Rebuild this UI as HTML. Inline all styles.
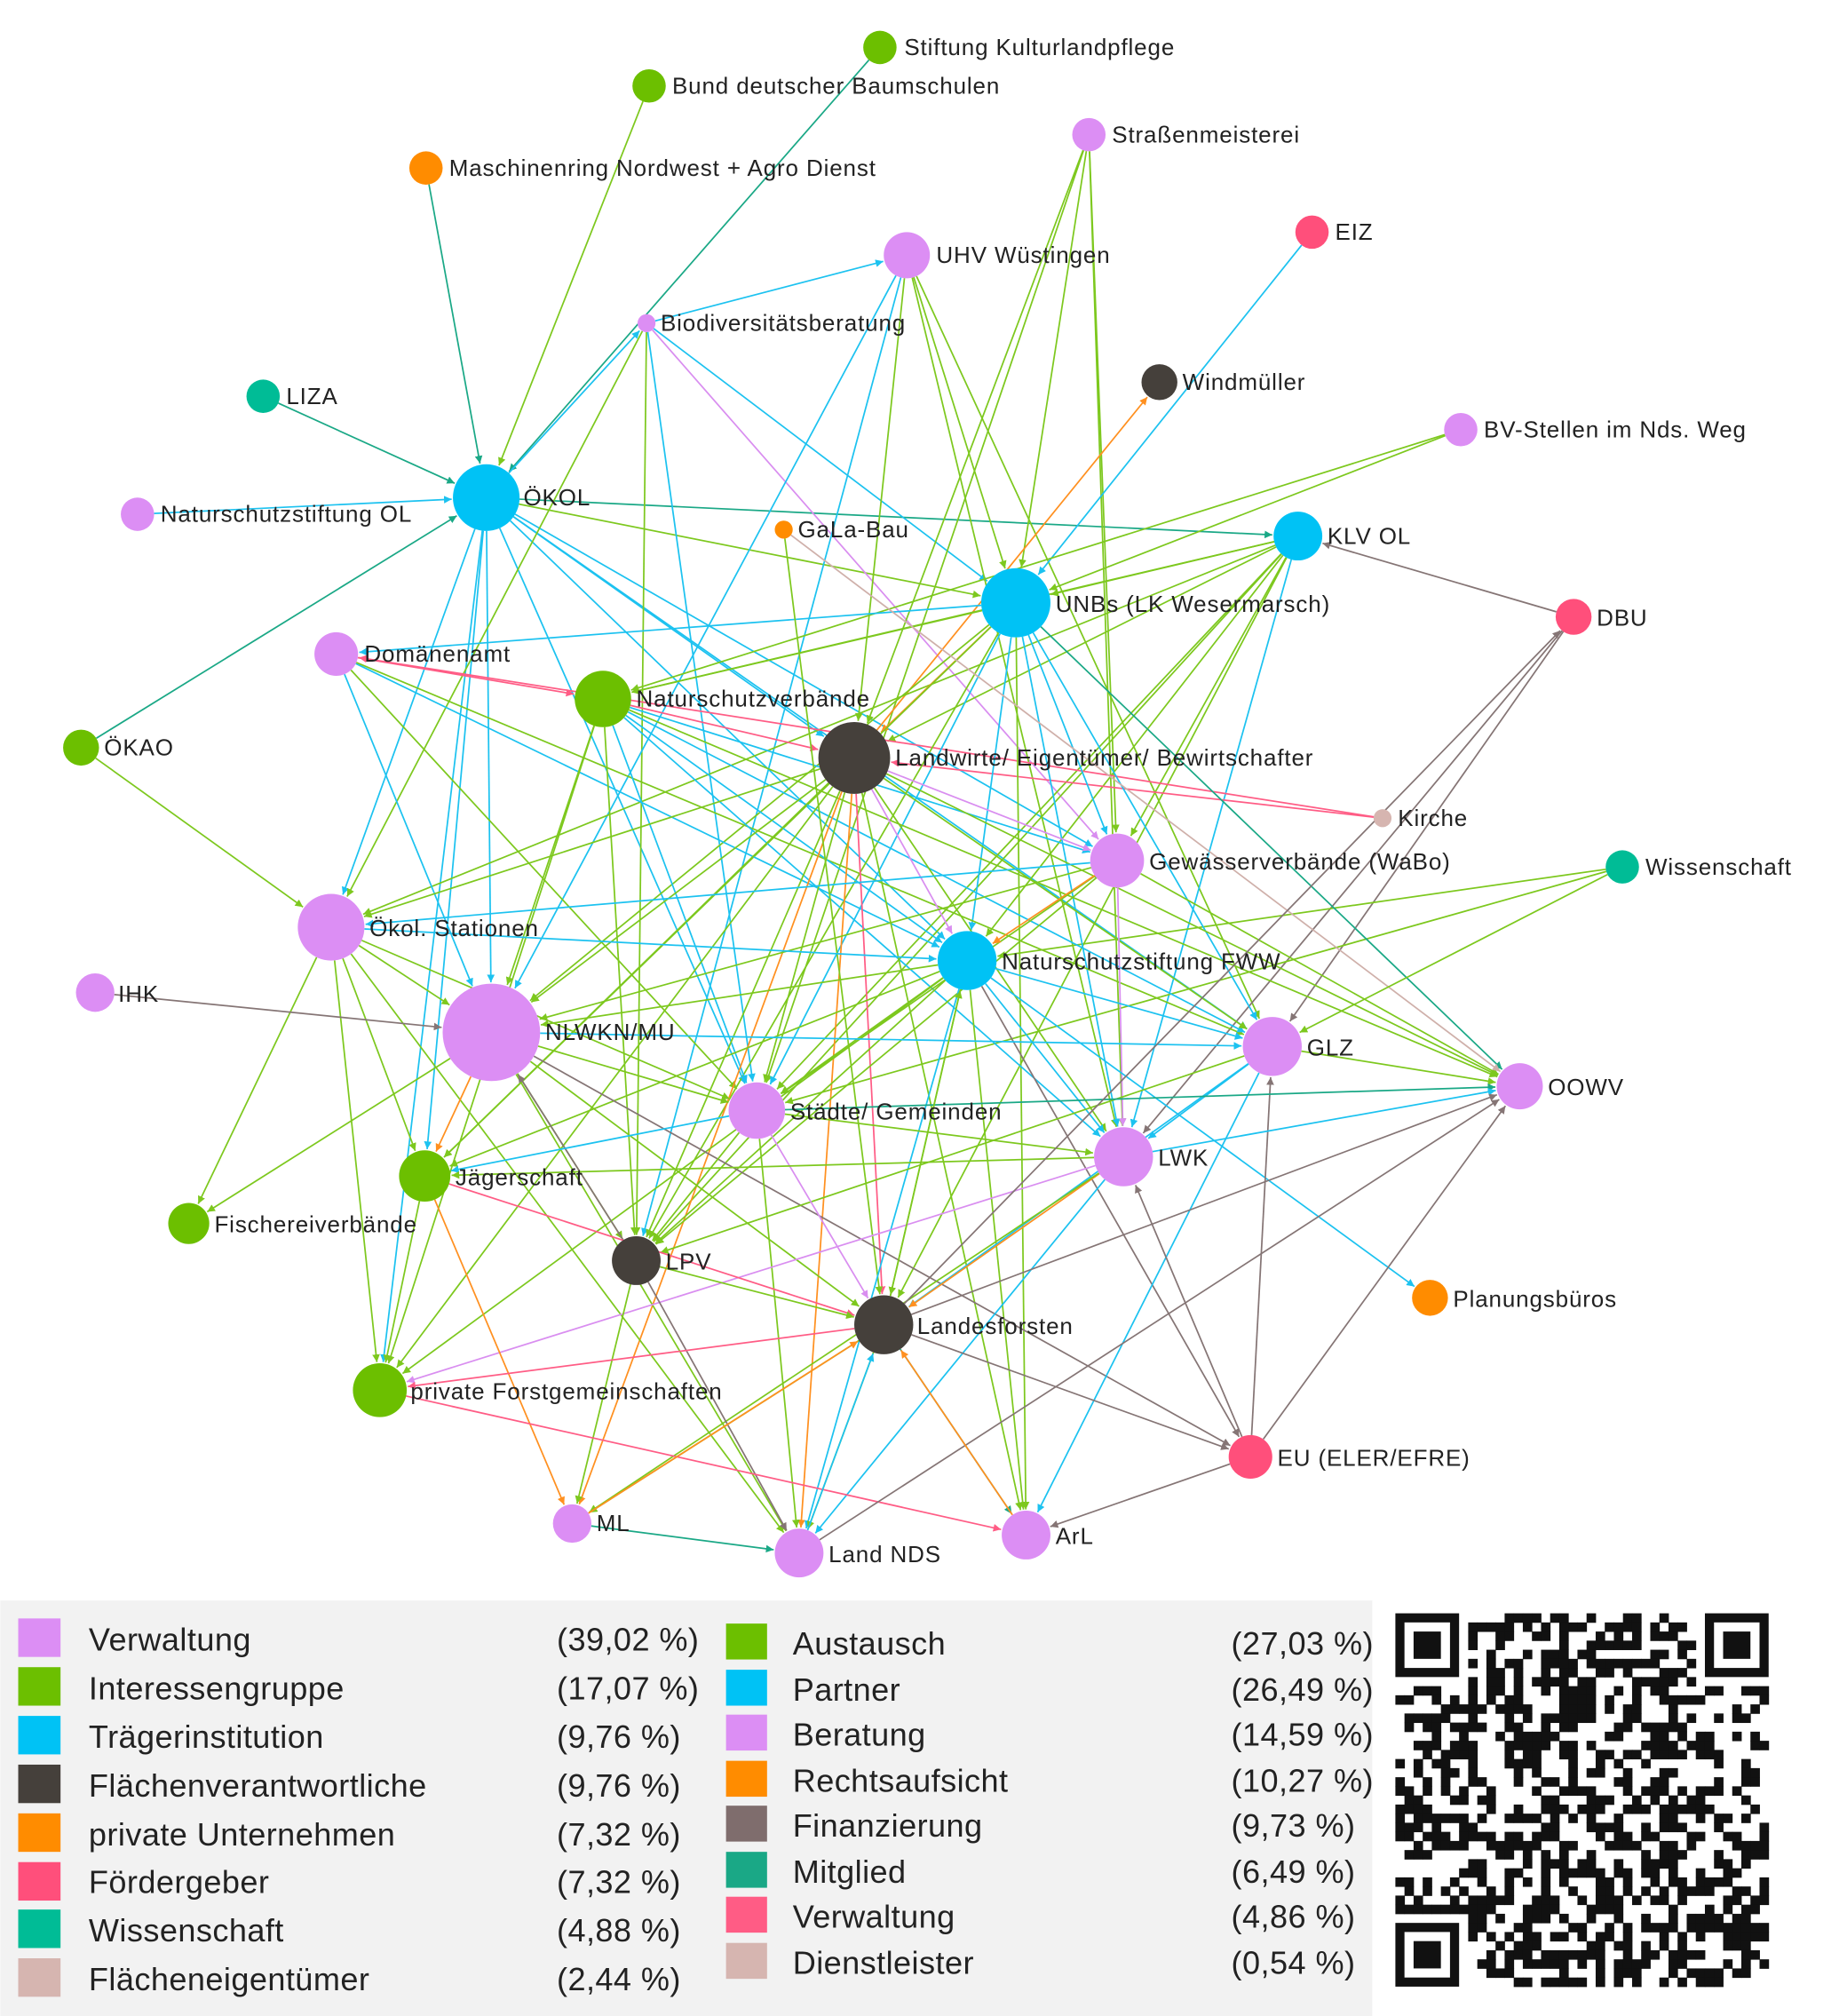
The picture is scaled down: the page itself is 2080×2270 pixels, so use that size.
<!DOCTYPE html>
<html><head><meta charset="utf-8">
<style>
html,body{margin:0;padding:0;background:#fff;}
svg{display:block;}
text{font-family:"Liberation Sans",sans-serif;}
</style></head>
<body>
<svg id="s" width="2080" height="2270" viewBox="0 0 1440 1572" xmlns="http://www.w3.org/2000/svg">
<defs>
<marker id="mg" viewBox="0 0 10 10" refX="10" refY="5" markerWidth="5" markerHeight="5" orient="auto"><path d="M0,0L10,5L0,10z" fill="#7dc81e"/></marker>
<marker id="mb" viewBox="0 0 10 10" refX="10" refY="5" markerWidth="5" markerHeight="5" orient="auto"><path d="M0,0L10,5L0,10z" fill="#1cc2f0"/></marker>
<marker id="mv" viewBox="0 0 10 10" refX="10" refY="5" markerWidth="5" markerHeight="5" orient="auto"><path d="M0,0L10,5L0,10z" fill="#d98ef0"/></marker>
<marker id="mo" viewBox="0 0 10 10" refX="10" refY="5" markerWidth="5" markerHeight="5" orient="auto"><path d="M0,0L10,5L0,10z" fill="#ff9020"/></marker>
<marker id="mf" viewBox="0 0 10 10" refX="10" refY="5" markerWidth="5" markerHeight="5" orient="auto"><path d="M0,0L10,5L0,10z" fill="#857575"/></marker>
<marker id="mt" viewBox="0 0 10 10" refX="10" refY="5" markerWidth="5" markerHeight="5" orient="auto"><path d="M0,0L10,5L0,10z" fill="#1aa886"/></marker>
<marker id="mp" viewBox="0 0 10 10" refX="10" refY="5" markerWidth="5" markerHeight="5" orient="auto"><path d="M0,0L10,5L0,10z" fill="#ff5c85"/></marker>
<marker id="md" viewBox="0 0 10 10" refX="10" refY="5" markerWidth="5" markerHeight="5" orient="auto"><path d="M0,0L10,5L0,10z" fill="#cfb0aa"/></marker>
</defs>
<g id="edges"></g>
<g id="nodes"></g>
<g font-size="18" fill="#222" letter-spacing="0.6">
<text x="705" y="43">Stiftung Kulturlandpflege</text>
<text x="524" y="73">Bund deutscher Baumschulen</text>
<text x="867" y="111">Straßenmeisterei</text>
<text x="350" y="137">Maschinenring Nordwest + Agro Dienst</text>
<text x="1041" y="187">EIZ</text>
<text x="730" y="205">UHV Wüstingen</text>
<text x="515" y="258">Biodiversitätsberatung</text>
<text x="922" y="304">Windmüller</text>
<text x="223" y="315">LIZA</text>
<text x="1157" y="341">BV-Stellen im Nds. Weg</text>
<text x="408" y="394">ÖKOL</text>
<text x="125" y="407">Naturschutzstiftung OL</text>
<text x="622" y="419">GaLa-Bau</text>
<text x="1035" y="424">KLV OL</text>
<text x="823" y="477">UNBs (LK Wesermarsch)</text>
<text x="1245" y="488">DBU</text>
<text x="284" y="516">Domänenamt</text>
<text x="496" y="551">Naturschutzverbände</text>
<text x="81" y="589">ÖKAO</text>
<text x="698" y="597">Landwirte/ Eigentümer/ Bewirtschafter</text>
<text x="1090" y="644">Kirche</text>
<text x="896" y="678">Gewässerverbände (WaBo)</text>
<text x="1283" y="682">Wissenschaft</text>
<text x="288" y="730">Ökol. Stationen</text>
<text x="781" y="756">Naturschutzstiftung FWW</text>
<text x="92" y="781">IHK</text>
<text x="425" y="811">NLWKN/MU</text>
<text x="1019" y="823">GLZ</text>
<text x="1207" y="854">OOWV</text>
<text x="616" y="873">Städte/ Gemeinden</text>
<text x="903" y="909">LWK</text>
<text x="355" y="924">Jägerschaft</text>
<text x="167" y="961">Fischereiverbände</text>
<text x="519" y="990">LPV</text>
<text x="1133" y="1019">Planungsbüros</text>
<text x="715" y="1040">Landesforsten</text>
<text x="320" y="1091">private Forstgemeinschaften</text>
<text x="996" y="1143">EU (ELER/EFRE)</text>
<text x="465" y="1194">ML</text>
<text x="823" y="1204">ArL</text>
<text x="646" y="1218">Land NDS</text>
</g>
<rect x="0" y="1248" width="1070" height="324" fill="#f2f2f2"/>
<g font-size="25" fill="#222" letter-spacing="0.3">
<rect x="14" y="1262" width="33" height="30" fill="#dc8ef4"/><text x="69" y="1287">Verwaltung</text><text x="434" y="1287">(39,02 %)</text>
<rect x="14" y="1300" width="33" height="30" fill="#6cbf00"/><text x="69" y="1325">Interessengruppe</text><text x="434" y="1325">(17,07 %)</text>
<rect x="14" y="1338" width="33" height="30" fill="#00c2f5"/><text x="69" y="1363">Trägerinstitution</text><text x="434" y="1363">(9,76 %)</text>
<rect x="14" y="1376" width="33" height="30" fill="#45403b"/><text x="69" y="1401">Flächenverantwortliche</text><text x="434" y="1401">(9,76 %)</text>
<rect x="14" y="1414" width="33" height="30" fill="#ff8c00"/><text x="69" y="1439">private Unternehmen</text><text x="434" y="1439">(7,32 %)</text>
<rect x="14" y="1452" width="33" height="30" fill="#ff4f7b"/><text x="69" y="1476">Fördergeber</text><text x="434" y="1476">(7,32 %)</text>
<rect x="14" y="1489" width="33" height="30" fill="#00bc96"/><text x="69" y="1514">Wissenschaft</text><text x="434" y="1514">(4,88 %)</text>
<rect x="14" y="1527" width="33" height="30" fill="#d6b5b0"/><text x="69" y="1552">Flächeneigentümer</text><text x="434" y="1552">(2,44 %)</text>

<rect x="566" y="1266" width="32" height="28" fill="#6cbf00"/><text x="618" y="1290">Austausch</text><text x="960" y="1290">(27,03 %)</text>
<rect x="566" y="1302" width="32" height="28" fill="#00c2f5"/><text x="618" y="1326">Partner</text><text x="960" y="1326">(26,49 %)</text>
<rect x="566" y="1337" width="32" height="28" fill="#dc8ef4"/><text x="618" y="1361">Beratung</text><text x="960" y="1361">(14,59 %)</text>
<rect x="566" y="1373" width="32" height="28" fill="#ff8c00"/><text x="618" y="1397">Rechtsaufsicht</text><text x="960" y="1397">(10,27 %)</text>
<rect x="566" y="1408" width="32" height="28" fill="#7f6d6d"/><text x="618" y="1432">Finanzierung</text><text x="960" y="1432">(9,73 %)</text>
<rect x="566" y="1444" width="32" height="28" fill="#1aa886"/><text x="618" y="1468">Mitglied</text><text x="960" y="1468">(6,49 %)</text>
<rect x="566" y="1479" width="32" height="28" fill="#ff5c85"/><text x="618" y="1503">Verwaltung</text><text x="960" y="1503">(4,86 %)</text>
<rect x="566" y="1515" width="32" height="28" fill="#d6b5b0"/><text x="618" y="1539">Dienstleister</text><text x="960" y="1539">(0,54 %)</text>
</g>
<g id="qr"></g>
</svg>
<script>
var N={
SK:[686,37,13,'#6cbf00'],BB:[506,67,13,'#6cbf00'],SM:[849,105,13,'#dc8ef4'],MR:[332,131,13,'#ff8c00'],
EIZ:[1023,181,13,'#ff4f7b'],UHV:[707,199,18,'#dc8ef4'],BIO:[504,252,7,'#dc8ef4'],WM:[904,298,14,'#45403b'],
LIZA:[205,309,13,'#00bc96'],BV:[1139,335,13,'#dc8ef4'],OKOL:[379,388,26,'#00c2f5'],NOL:[107,401,13,'#dc8ef4'],
GB:[611,413,7,'#ff8c00'],KLV:[1012,418,19,'#00c2f5'],UNB:[792,470,27,'#00c2f5'],DBU:[1227,481,14,'#ff4f7b'],
DOM:[262,510,17,'#dc8ef4'],NV:[470,545,22,'#6cbf00'],OKAO:[63,583,14,'#6cbf00'],LW:[666,591,28,'#45403b'],
KI:[1078,638,7,'#d6b5b0'],GW:[871,671,21,'#dc8ef4'],WI:[1265,676,13,'#00bc96'],OS:[258,723,26,'#dc8ef4'],
FWW:[754,749,23,'#00c2f5'],IHK:[74,774,15,'#dc8ef4'],NL:[383,805,38,'#dc8ef4'],GLZ:[992,816,23,'#dc8ef4'],
OO:[1185,847,18,'#dc8ef4'],ST:[590,866,22,'#dc8ef4'],LWK:[876,902,23,'#dc8ef4'],JS:[331,917,20,'#6cbf00'],
FI:[147,954,16,'#6cbf00'],LPV:[496,983,19,'#45403b'],PB:[1115,1012,14,'#ff8c00'],LF:[689,1033,23,'#45403b'],
PF:[296,1084,21,'#6cbf00'],EU:[975,1136,17,'#ff4f7b'],ML:[446,1188,15,'#dc8ef4'],ARL:[800,1197,19,'#dc8ef4'],
LN:[623,1211,19,'#dc8ef4']};
var C={g:'#7dc81e',b:'#1cc2f0',v:'#d98ef0',o:'#ff9020',f:'#857575',t:'#1aa886',p:'#ff5c85',d:'#cfb0aa'};
var E=[
'SK OKOL t','BB OKOL g','MR OKOL t','LIZA OKOL t','NOL OKOL b','OKAO OKOL t','OKOL KLV t','OKOL UNB g','OKOL LW b',
'OKOL GW b','OKOL FWW b','OKOL GLZ b','OKOL JS b','OKOL PF b','OKOL OS b','OKOL NL b','OKOL BIO b','OKOL ST b',
'BIO UHV b','BIO UNB b','BIO LPV g','BIO GW v','BIO ST b','BIO OS g','UHV LPV b','UHV LWK g','UHV GLZ g','UHV UNB g','UHV LW g','UHV NL b',
'SM GW g','SM LW g','SM UNB g','SM LWK g','SM ST g','EIZ UNB b','LW WM o','BV UNB g','BV NV g',
'KLV NV g','KLV LW g','KLV ST g','KLV LPV g','KLV LWK b','KLV LF g','KLV OS g','KLV FWW g','KLV UNB g','KLV GW g',
'DBU KLV f','DBU GLZ f','DBU LWK f','KI LW p','KI DOM p','WI ST g','WI FWW g',
'UNB NV g','UNB DOM b','UNB LW o','UNB NL g','UNB FWW b','UNB GLZ b','UNB LWK b','UNB OO t','UNB LPV g','UNB JS g','UNB ARL g','UNB GW b','UNB ST b',
'DOM NV p','DOM FWW b','DOM ST g','DOM NL b','DOM GLZ g',
'NV LW p','NV GW b','NV FWW b','NV GLZ b','NV LWK b','NV ST b','NV LPV g','NV PF g','NV OO g','NV NL g',
'LW OS g','LW NL g','LW JS g','LW LPV g','LW ST g','LW LWK g','LW GLZ g','LW OO g','LW ARL g','LW LF p','LW GW v','LW FWW v','LW ML o','LW PF g','LW LN o',
'GW OS b','GW NL g','GW ST g','GW LPV g','GW LWK v','GW OO g','GW FWW o','GB OO d','GB LF g',
'OS FWW b','OS NL g','OS JS g','OS FI g','OS PF g','OS LN g','OS ST g','OKAO OS g','IHK NL f',
'FWW NL g','FWW ST g','FWW LWK b','FWW GLZ b','FWW LPV g','FWW JS g','FWW LF g','FWW ARL g','FWW EU f','FWW PF g','FWW PB b','FWW LN b',
'NL GLZ b','NL ST g','NL LF g','NL FI g','NL LPV g','NL EU f','NL LN g','NL JS o','LPV NL f',
'GLZ OO g','GLZ LWK b','GLZ LF b','GLZ LPV g','GLZ ARL b','EU GLZ f','WI GLZ g',
'ST OO t','ST LWK g','ST LF v','ST LN g','ST LPV g','ST JS b',
'LWK OO b','LWK JS g','LWK LF o','LWK PF v','LWK LN b','LWK ML g','EU LWK f',
'JS LF p','JS ML o','JS PF g','LPV LN f','LPV LF g','LPV ML g',
'LF PF p','LF ML g','LF LN g','LF ARL t','LF EU f','LF OO f','LF FWW g','LF DBU f',
'PF ARL p','ML LN t','EU ARL f','EU OO f','LN OO f','LN LF b','ARL LF o','ML LF o'];
var ns='http://www.w3.org/2000/svg',eg=document.getElementById('edges'),ng=document.getElementById('nodes');
E.forEach(function(s){var p=s.split(' '),a=N[p[0]],b=N[p[1]];if(!a||!b)return;
var dx=b[0]-a[0],dy=b[1]-a[1],L=Math.sqrt(dx*dx+dy*dy);
var x1=a[0]+dx/L*a[2],y1=a[1]+dy/L*a[2],x2=b[0]-dx/L*(b[2]+1),y2=b[1]-dy/L*(b[2]+1);
var l=document.createElementNS(ns,'line');l.setAttribute('x1',x1);l.setAttribute('y1',y1);l.setAttribute('x2',x2);l.setAttribute('y2',y2);
l.setAttribute('stroke',C[p[2]]);l.setAttribute('stroke-width','1.2');l.setAttribute('marker-end','url(#m'+p[2]+')');eg.appendChild(l);});
for(var k in N){var n=N[k],c=document.createElementNS(ns,'circle');c.setAttribute('cx',n[0]);c.setAttribute('cy',n[1]);c.setAttribute('r',n[2]);c.setAttribute('fill',n[3]);ng.appendChild(c);}
var q=document.getElementById('qr'),x0=1088,y0=1258,m=41,cs=7.1,seed=7;
function rnd(){seed=(seed*1103515245+12345)&0x7fffffff;return seed/0x7fffffff;}
function rect(x,y,w,h,f){var r=document.createElementNS(ns,'rect');r.setAttribute('x',x);r.setAttribute('y',y);r.setAttribute('width',w);r.setAttribute('height',h);r.setAttribute('fill',f);q.appendChild(r);}
function inF(i,j){return (i<8&&j<8)||(i>=m-8&&j<8)||(i<8&&j>=m-8);}
for(var i=0;i<m;i++)for(var j=0;j<m;j++){if(inF(i,j))continue;if(rnd()<0.5)rect(x0+i*cs,y0+j*cs,cs+0.3,cs+0.3,'#111');}
[[0,0],[m-7,0],[0,m-7]].forEach(function(f){var X=x0+f[0]*cs,Y=y0+f[1]*cs;rect(X,Y,7*cs,7*cs,'#111');rect(X+cs,Y+cs,5*cs,5*cs,'#fff');rect(X+2*cs,Y+2*cs,3*cs,3*cs,'#111');});
</script>
</body></html>
